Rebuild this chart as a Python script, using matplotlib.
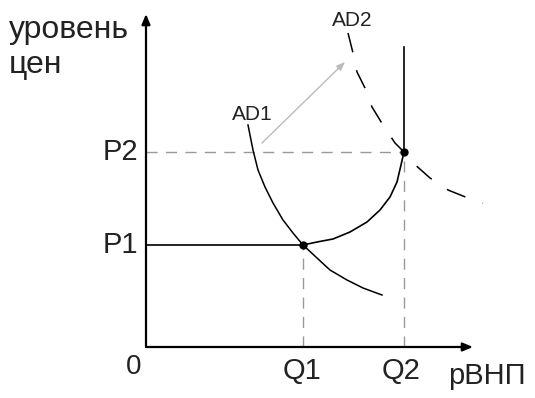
import matplotlib.pyplot as plt

plt.rcParams['font.family'] = ['Liberation Sans', 'DejaVu Sans']

# equilibrium levels (origin of the diagram = 0,0)
Q1, Q2 = 157, 258
P1, P2 = 102, 195

# AD1 demand curve
ad1_q = [102, 103, 107, 112, 119, 127, 137, 147, 157, 171, 184, 201, 217, 236]
ad1_p = [222, 217, 197, 177, 160, 144, 127, 114, 102, 89, 77, 67, 59, 52]

# AD2 demand curve (shifted, dashed)
ad2_q = [202, 207, 211, 219, 226, 237, 249, 258, 266, 284, 302, 322, 337]
ad2_p = [314, 294, 275, 259, 240, 222, 204, 195, 185, 169, 157, 149, 144]

# aggregate supply: flat part, rising part, vertical part
as_q = [0, 157, 171, 187, 204, 221, 234, 244, 251, 255, 258, 258]
as_p = [102, 102, 105, 108, 115, 125, 137, 150, 165, 182, 195, 300]

fig = plt.figure(figsize=(5.35, 3.98), dpi=100)
ax = fig.add_axes([0, 0, 1, 1])
ax.set_xlim(-146, 389)
ax.set_ylim(-51, 347)
ax.axis('off')

# axes with arrows
arrow = dict(arrowstyle='-|>,head_length=0.6,head_width=0.25', color='black',
             lw=1.6, shrinkA=0, shrinkB=0)
ax.annotate('', xy=(0, 333), xytext=(0, 0), arrowprops=arrow)
ax.annotate('', xy=(327, 0), xytext=(0, 0), arrowprops=arrow)

# guide lines
guide = dict(color='#999999', lw=1.0, ls=(0, (8, 6)))
ax.plot([0, Q2], [P2, P2], **guide)
ax.plot([Q1, Q1], [0, P1], **guide)
ax.plot([Q2, Q2], [0, P2], **guide)

# curves
ax.plot(as_q, as_p, color='black', lw=1.2)
ax.plot(ad1_q, ad1_p, color='black', lw=1.1)
ax.plot(ad2_q, ad2_p, color='black', lw=1.1, ls=(0, (13, 12)))

ax.plot([Q1, Q2], [P1, P2], 'o', color='black', ms=5)

# shift arrow
ax.annotate('', xy=(199, 285), xytext=(116, 204),
            arrowprops=dict(arrowstyle='-|>,head_length=0.5,head_width=0.2',
                            color='#bbbbbb', lw=1.0, shrinkA=0, shrinkB=0))

# labels
txt = dict(color='#222222', va='center')
ax.text(-137, 317, 'уровень', fontsize=23, ha='left', **txt)
ax.text(-137, 282, 'цен', fontsize=23, ha='left', **txt)
ax.text(-8, P2, 'P2', fontsize=21, ha='right', **txt)
ax.text(-8, P1, 'P1', fontsize=21, ha='right', **txt)
ax.text(-12, -20, '0', fontsize=20, ha='center', **txt)
ax.text(Q1 - 1, -24, 'Q1', fontsize=21, ha='center', **txt)
ax.text(Q2 - 3, -24, 'Q2', fontsize=21, ha='center', **txt)
ax.text(302, -29, 'рВНП', fontsize=21, ha='left', **txt)
ax.text(106, 233, 'AD1', fontsize=15, ha='center', **txt)
ax.text(206, 327, 'AD2', fontsize=15, ha='center', **txt)

fig.savefig('out.png', dpi=100)
